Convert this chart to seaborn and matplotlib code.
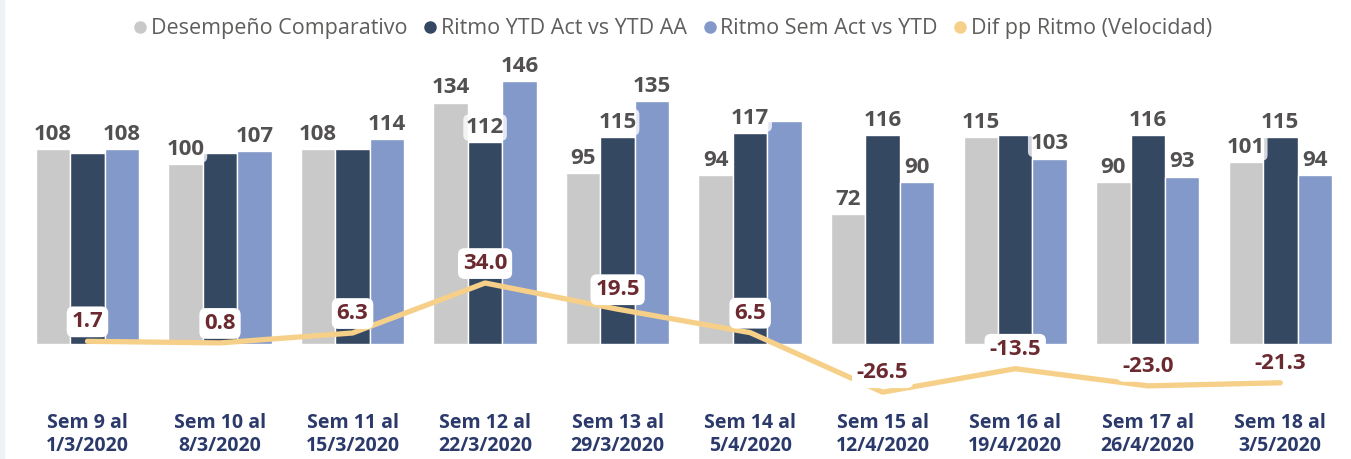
import numpy as np
import pandas as pd
import seaborn as sns
import matplotlib.pyplot as plt
from matplotlib.lines import Line2D
from matplotlib.patches import Rectangle

# --- Data ---
weeks = ["Sem 9 al\n1/3/2020", "Sem 10 al\n8/3/2020", "Sem 11 al\n15/3/2020",
         "Sem 12 al\n22/3/2020", "Sem 13 al\n29/3/2020", "Sem 14 al\n5/4/2020",
         "Sem 15 al\n12/4/2020", "Sem 16 al\n19/4/2020", "Sem 17 al\n26/4/2020",
         "Sem 18 al\n3/5/2020"]
series = ["Desempeño Comparativo", "Ritmo YTD Act vs YTD AA", "Ritmo Sem Act vs YTD"]
desempeno = [108, 100, 108, 134, 95, 94, 72, 115, 90, 101]
ritmo_ytd = [106, 106, 108, 112, 115, 117, 116, 116, 116, 115]
ritmo_sem = [108, 107, 114, 146, 135, 124, 90, 103, 93, 94]
dif_pp = [1.7, 0.8, 6.3, 34.0, 19.5, 6.5, -26.5, -13.5, -23.0, -21.3]
line_name = "Dif pp Ritmo (Velocidad)"

# labels Power BI hid because of overlap (series index, week index)
hidden = {(1, 0), (1, 1), (1, 2), (2, 5), (1, 7)}

colors = ["#c9c9c9", "#354862", "#8399c9"]
line_color = "#f6d088"

df = pd.DataFrame({
    "week": np.repeat(weeks, 3),
    "serie": series * len(weeks),
    "valor": np.column_stack([desempeno, ritmo_ytd, ritmo_sem]).ravel(),
})

# --- Plot ---
sns.set_theme(style="white")
plt.rcParams["font.family"] = ["Open Sans", "DejaVu Sans"]

fig = plt.figure(figsize=(13.51, 4.59), dpi=100)
ax = fig.add_axes([0.0157, 0.1122, 0.981, 0.7665])

sns.barplot(data=df, x="week", y="valor", hue="serie", order=weeks,
            hue_order=series, palette=colors, width=0.78, saturation=1,
            legend=False, ax=ax)

for i, cont in enumerate(ax.containers):
    vals = [desempeno, ritmo_ytd, ritmo_sem][i]
    labels = ["" if (i, j) in hidden else f"{v:.0f}" for j, v in enumerate(vals)]
    ax.bar_label(cont, labels=labels, padding=3, fontsize=16, fontweight="bold",
                 color="#525050",
                 bbox=dict(boxstyle="round,pad=0.12,rounding_size=0.25",
                           fc="white", ec="none", alpha=0.78))

# line (same axis as bars)
xpos = np.arange(len(weeks))
sns.lineplot(x=xpos, y=dif_pp, color=line_color, linewidth=3.8, sort=False,
             ax=ax, zorder=5, solid_capstyle="round")
for x, v in zip(xpos, dif_pp):
    ax.annotate(f"{v:.1f}", (x, v), xytext=(0, 14), textcoords="offset points",
                ha="center", va="center", fontsize=16, fontweight="bold",
                color="#6b2a30", zorder=6,
                bbox=dict(boxstyle="round,pad=0.22,rounding_size=0.3",
                          fc="white", ec="none"))

ax.set_xlim(-0.5, len(weeks) - 0.5)
ax.set_ylim(-35, 160)
ax.set_xlabel("")
ax.set_ylabel("")
ax.set_yticks([])
ax.set_xticks(xpos)
ax.set_xticklabels(weeks, fontsize=14, fontweight="bold", color="#2b3a6b",
                   linespacing=1.22)
ax.tick_params(axis="x", length=0, pad=4)
sns.despine(ax=ax, left=True, bottom=True)

# legend
handles = [Line2D([], [], marker="o", ls="", color=c, markersize=8) for c in colors]
handles.append(Line2D([], [], marker="o", ls="", color=line_color, markersize=8))
fig.legend(handles, series + [line_name], loc="center", bbox_to_anchor=(0.497, 0.937),
           ncol=4, frameon=False, fontsize=15.5, handletextpad=0.05,
           columnspacing=0.6, handlelength=0.9, labelcolor="#605e5c")

# thin panel strip at the left edge
fig.patches.append(Rectangle((0, 0), 0.003, 1, transform=fig.transFigure,
                             color="#eef2f6", zorder=0))

fig.savefig("out.png", dpi=100, facecolor="white")
